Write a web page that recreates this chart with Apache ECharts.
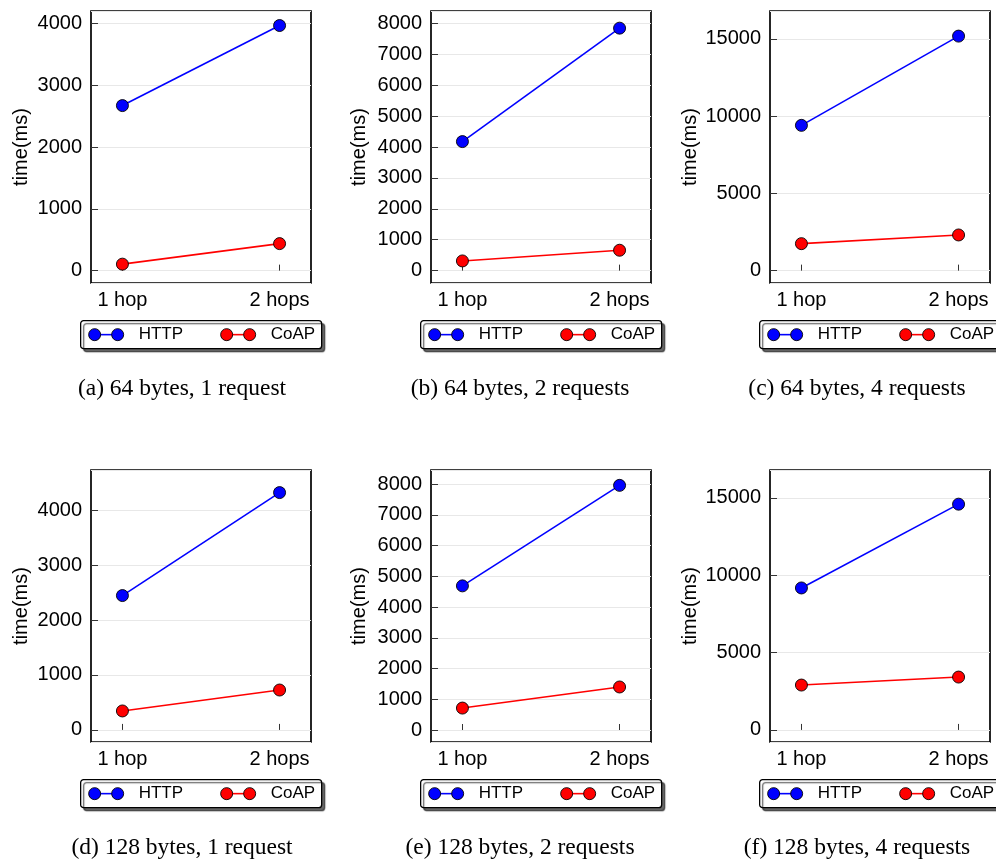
<!DOCTYPE html>
<html>
<head>
<meta charset="utf-8">
<script src="https://cdn.jsdelivr.net/npm/echarts@6/dist/echarts.min.js"></script>
<style>
  html, body { margin: 0; padding: 0; background: #fff; }
  #chart { width: 996px; height: 860px; }
</style>
</head>
<body>
<div id="chart"></div>
<script>
// ---- data ----
const hops = [1, 2];
const hopLabels = ['1 hop', '2 hops'];
const seriesNames = ['HTTP', 'CoAP'];

const httpA = [2670, 3965];
const coapA = [105, 437];
const httpB = [4175, 7845];
const coapB = [314, 660];
const httpC = [9400, 15175];
const coapC = [1746, 2308];
const httpD = [2445, 4319];
const coapD = [345, 726];
const httpE = [4690, 7960];
const coapE = [714, 1400];
const httpF = [9176, 14592];
const coapF = [2901, 3417];

const httpAll = [httpA, httpB, httpC, httpD, httpE, httpF];
const coapAll = [coapA, coapB, coapC, coapD, coapE, coapF];

const yMins = [-200, -400, -800, -220, -390, -780];
const yMaxs = [4200, 8400, 16800, 4730, 8460, 16800];
const ySteps = [1000, 1000, 5000, 1000, 1000, 5000];

const captions = [
  '(a) 64 bytes, 1 request',
  '(b) 64 bytes, 2 requests',
  '(c) 64 bytes, 4 requests',
  '(d) 128 bytes, 1 request',
  '(e) 128 bytes, 2 requests',
  '(f) 128 bytes, 4 requests'
];
const yAxisName = 'time(ms)';

// ---- layout ----
const colLeft = [91, 431, 770];
const rowTop = [11, 470];
const plotW = 220;
const plotH = 272;
const nameGaps = [60, 62, 70];
const captionX = [182, 520, 857];
const captionY = [389, 848];
const colors = ['#0000ff', '#ff0000'];
const sans = 'Liberation Sans, Arial, Helvetica, sans-serif';

const grids = [], xAxes = [], yAxes = [], series = [], graphics = [];

for (let i = 0; i < 6; i++) {
  const col = i % 3, row = Math.floor(i / 3);
  const left = colLeft[col], top = rowTop[row];
  grids.push({
    left: left, top: top, width: plotW, height: plotH,
    show: true, borderColor: '#000', borderWidth: 1.7,
    backgroundColor: 'transparent', containLabel: false
  });
  xAxes.push({
    type: 'value', gridIndex: i,
    min: hops[0] - 0.2, max: hops[hops.length - 1] + 0.2,
    minInterval: 1, maxInterval: 1,
    axisLine: { show: false },
    axisTick: { show: true, inside: true, length: 6, lineStyle: { color: '#333', width: 1 } },
    splitLine: { show: false },
    axisLabel: {
      showMinLabel: false, showMaxLabel: false,
      margin: 7, color: '#000', fontFamily: sans, fontSize: 20,
      formatter: function (v) {
        const k = hops.indexOf(v);
        return k >= 0 ? hopLabels[k] : '';
      }
    }
  });
  yAxes.push({
    type: 'value', gridIndex: i,
    min: yMins[i], max: yMaxs[i],
    minInterval: ySteps[i], maxInterval: ySteps[i], splitNumber: 5,
    name: yAxisName, nameLocation: 'middle', nameGap: nameGaps[col],
    nameTextStyle: { color: '#000', fontFamily: sans, fontSize: 20 },
    axisLine: { show: false },
    axisTick: { show: true, inside: true, length: 7, lineStyle: { color: '#333', width: 1 } },
    splitLine: { show: true, lineStyle: { color: '#e8e8e8', width: 1 } },
    axisLabel: {
      showMinLabel: false, showMaxLabel: false,
      margin: 9, color: '#000', fontFamily: sans, fontSize: 20,
      formatter: function (v) { return String(v); }
    }
  });
  [httpAll[i], coapAll[i]].forEach(function (vals, s) {
    series.push({
      type: 'line', name: seriesNames[s],
      xAxisIndex: i, yAxisIndex: i,
      data: hops.map(function (h, k) { return [h, vals[k]]; }),
      symbol: 'circle', symbolSize: 12,
      itemStyle: { color: colors[s], borderColor: '#000', borderWidth: 0.9 },
      lineStyle: { color: colors[s], width: 1.6 },
      emphasis: { disabled: true },
      animation: false, z: 3 + s
    });
  });

  // legend box (pgfplots style)
  const lx = left - 11, ly = top + plotH + 37;
  const children = [{
    type: 'rect',
    shape: { x: 0, y: 0, width: 241, height: 28, r: 3 },
    style: {
      fill: '#fff', stroke: '#000', lineWidth: 1.3,
      shadowColor: 'rgba(0,0,0,0.6)', shadowOffsetX: 3, shadowOffsetY: 3, shadowBlur: 1
    }
  }];
  const itemX = [14, 146];
  seriesNames.forEach(function (nm, s) {
    const x0 = itemX[s];
    children.push({
      type: 'line', shape: { x1: x0, y1: 14, x2: x0 + 23, y2: 14 },
      style: { stroke: colors[s], lineWidth: 1.6 }
    });
    [x0, x0 + 23].forEach(function (cx) {
      children.push({
        type: 'circle', shape: { cx: cx, cy: 14, r: 6 },
        style: { fill: colors[s], stroke: '#000', lineWidth: 0.9 }
      });
    });
    children.push({
      type: 'text', x: x0 + 44, y: 14,
      style: { text: nm, fill: '#000', font: '17px ' + sans, textVerticalAlign: 'middle', textAlign: 'left' }
    });
  });
  graphics.push({ type: 'group', left: lx, top: ly, children: children });

  graphics.push({
    type: 'text', x: captionX[col], y: captionY[row],
    style: {
      text: captions[i], fill: '#000',
      font: '23.5px "Liberation Serif", "Times New Roman", serif',
      textAlign: 'center', textVerticalAlign: 'middle'
    }
  });
}

const chart = echarts.init(document.getElementById('chart'), null, { renderer: 'canvas' });
chart.setOption({
  animation: false,
  backgroundColor: '#fff',
  grid: grids,
  xAxis: xAxes,
  yAxis: yAxes,
  series: series,
  graphic: graphics
});
</script>
</body>
</html>
